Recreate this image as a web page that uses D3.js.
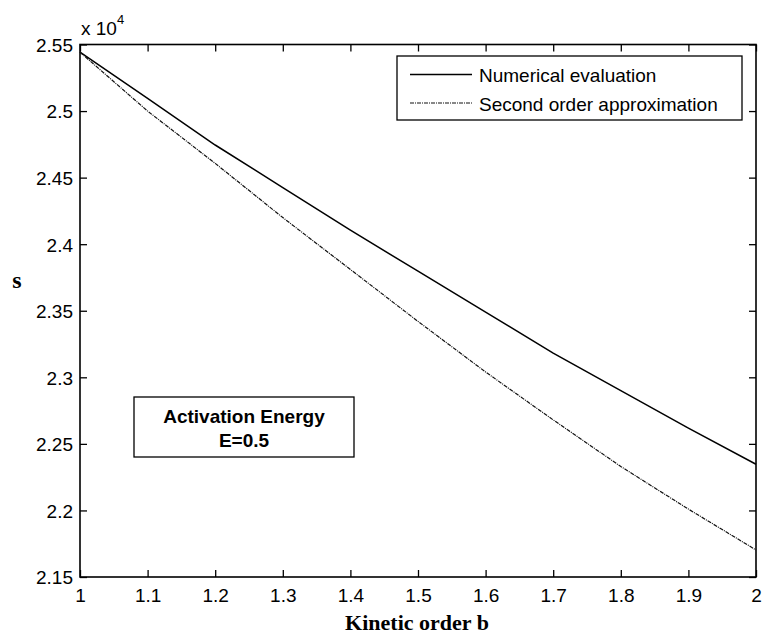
<!DOCTYPE html>
<html><head><meta charset="utf-8">
<script src="https://cdn.jsdelivr.net/npm/d3@7"></script>
<style>body{margin:0;background:#fff}svg{display:block}</style>
</head><body>
<script>
// ---- data ----
const kineticOrder = [1.0, 1.1, 1.2, 1.3, 1.4, 1.5, 1.6, 1.7, 1.8, 1.9, 2.0];
const numericalEvaluation = [25442, 25095, 24745, 24425, 24105, 23797, 23490, 23182, 22900, 22618, 22347];
const secondOrderApprox = [25442, 25000, 24607, 24200, 23810, 23420, 23040, 22680, 22330, 22010, 21703];
const xTickValues = [1, 1.1, 1.2, 1.3, 1.4, 1.5, 1.6, 1.7, 1.8, 1.9, 2];
const xTickLabels = ["1", "1.1", "1.2", "1.3", "1.4", "1.5", "1.6", "1.7", "1.8", "1.9", "2"];
const yTickValues = [21500, 22000, 22500, 23000, 23500, 24000, 24500, 25000, 25500];
const yTickLabels = ["2.15", "2.2", "2.25", "2.3", "2.35", "2.4", "2.45", "2.5", "2.55"];
const seriesNames = ["Numerical evaluation", "Second order approximation"];
const annotationLines = ["Activation Energy", "E=0.5"];

const W = 764, H = 635;
const L = 80, R = 756, T = 44.5, B = 577;
const svg = d3.select("body").append("svg").attr("width", W).attr("height", H);
const x = d3.scaleLinear().domain([1, 2]).range([L, R]);
const y = d3.scaleLinear().domain([21500, 25500]).range([B, T]);
const sans = "'Liberation Sans', Arial, sans-serif";
const serif = "'Liberation Serif', 'Times New Roman', serif";

// axes (ticks inward, mirrored)
const fs = 19;
const ax = svg.append("g").attr("transform", `translate(0,${B})`)
  .call(d3.axisBottom(x).tickValues(xTickValues).tickSize(-7).tickPadding(12)
    .tickFormat((d, i) => xTickLabels[i]));
const axT = svg.append("g").attr("transform", `translate(0,${T})`)
  .call(d3.axisTop(x).tickValues(xTickValues).tickSize(-7).tickFormat(""));
const ay = svg.append("g").attr("transform", `translate(${L},0)`)
  .call(d3.axisLeft(y).tickValues(yTickValues).tickSize(-7).tickPadding(7)
    .tickFormat((d, i) => yTickLabels[i]));
const ayR = svg.append("g").attr("transform", `translate(${R},0)`)
  .call(d3.axisRight(y).tickValues(yTickValues).tickSize(-7).tickFormat(""));
[ax, axT, ay, ayR].forEach(g => {
  g.select(".domain").remove();
  g.selectAll(".tick line").attr("stroke", "#000").attr("stroke-width", 1.3);
  g.selectAll("text").attr("font-family", sans).attr("font-size", fs).attr("fill", "#000");
});
ax.selectAll("text").attr("dy", "0.71em");
ay.selectAll("text").attr("dy", "0.36em");

svg.append("rect").attr("x", L).attr("y", T).attr("width", R - L).attr("height", B - T)
  .attr("fill", "none").attr("stroke", "#000").attr("stroke-width", 1.6);

// exponent
const ex = svg.append("text").attr("x", 81).attr("y", 35).attr("font-family", sans).attr("font-size", fs);
ex.append("tspan").text("x 10");
ex.append("tspan").attr("font-size", 13).attr("dy", -11).text("4");

// lines
const line = d3.line().x((d, i) => x(kineticOrder[i])).y(d => y(d));
svg.append("path").datum(numericalEvaluation).attr("d", line)
  .attr("fill", "none").attr("stroke", "#000").attr("stroke-width", 1.5);
svg.append("path").datum(secondOrderApprox).attr("d", line)
  .attr("fill", "none").attr("stroke", "#111").attr("stroke-width", 1.2)
  .attr("stroke-dasharray", "4,1,1,1");

// axis labels
svg.append("text").attr("x", 417).attr("y", 630).attr("text-anchor", "middle")
  .attr("font-family", serif).attr("font-weight", "bold").attr("font-size", 22)
  .text("Kinetic order b");
svg.append("text").attr("x", 17).attr("y", 288).attr("text-anchor", "middle")
  .attr("font-family", serif).attr("font-weight", "bold").attr("font-size", 24)
  .text("s");

// legend
const lg = svg.append("g");
lg.append("rect").attr("x", 397).attr("y", 56).attr("width", 345).attr("height", 64)
  .attr("fill", "#fff").attr("stroke", "#000").attr("stroke-width", 1.3);
const rows = [82, 110.5];
seriesNames.forEach((name, i) => {
  lg.append("line").attr("x1", 410).attr("x2", 472).attr("y1", rows[i] - 7.5).attr("y2", rows[i] - 7.5)
    .attr("stroke", i === 0 ? "#000" : "#111").attr("stroke-width", i === 0 ? 1.5 : 1.2)
    .attr("stroke-dasharray", i === 0 ? null : "4,1,1,1");
  lg.append("text").attr("x", 479).attr("y", rows[i]).attr("font-family", sans).attr("font-size", fs)
    .text(name);
});

// annotation
const an = svg.append("g");
an.append("rect").attr("x", 134).attr("y", 397).attr("width", 220).attr("height", 60)
  .attr("fill", "#fff").attr("stroke", "#000").attr("stroke-width", 1.3);
annotationLines.forEach((t, i) => {
  an.append("text").attr("x", 244).attr("y", 422.7 + i * 24).attr("text-anchor", "middle")
    .attr("font-family", sans).attr("font-weight", "bold").attr("font-size", fs).text(t);
});
</script>
</body></html>
